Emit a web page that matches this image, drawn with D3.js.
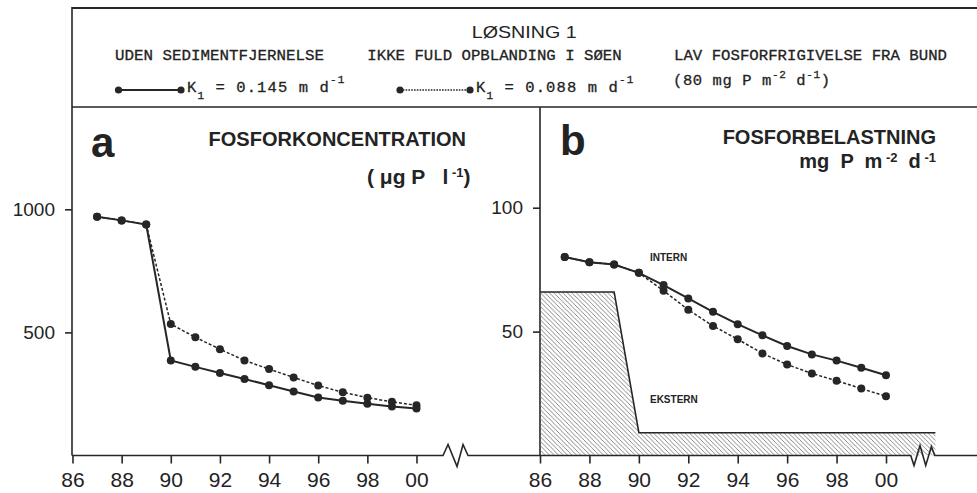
<!DOCTYPE html>
<html>
<head>
<meta charset="utf-8">
<script src="https://cdn.jsdelivr.net/npm/d3@7"></script>
<style>
  body { margin: 0; background: #fff; }
  svg text { fill: #232323; }
  .mono { font-family: "Liberation Mono", "DejaVu Sans Mono", monospace; }
  .sans { font-family: "Liberation Sans", Arial, sans-serif; }
</style>
</head>
<body>
<div id="chart"></div>
<script>
const width = 977;
const height = 493;
const ink = "#262626";

// values (years 87..00, 00 written as 100)
const years = [87, 88, 89, 90, 91, 92, 93, 94, 95, 96, 97, 98, 99, 100];
const concSolid = [970, 955, 938, 386, 360, 335, 311, 285, 260, 236, 222, 210, 199, 191];
const concDashed = [970, 955, 938, 534, 480, 432, 386, 351, 317, 284, 257, 235, 218, 204];
const loadSolid = [80.1, 78.0, 77.1, 73.7, 68.8, 63.4, 58.0, 53.0, 48.5, 44.2, 40.8, 38.3, 35.4, 32.4];
const loadDashed = [80.1, 78.0, 77.1, 73.7, 66.5, 58.8, 52.3, 46.9, 41.2, 36.7, 33.1, 30.2, 27.0, 23.9];
const externYears = [86, 89, 90, 102];
const externLoad = [66, 66, 9.2, 9.2];

const xTicks = [86, 88, 90, 92, 94, 96, 98, 100];
const yTicksA = [500, 1000];
const yTicksB = [50, 100];
const fmtYear = d => String(d % 100).padStart(2, "0");

const svg = d3.select("#chart")
  .append("svg")
  .attr("width", width)
  .attr("height", height)
  .attr("viewBox", `0 0 ${width} ${height}`);

svg.append("rect").attr("width", width).attr("height", height).attr("fill", "#fff");

// hatch for the external load
svg.append("defs")
  .append("pattern")
  .attr("id", "hatch")
  .attr("patternUnits", "userSpaceOnUse")
  .attr("width", 4.5)
  .attr("height", 4.5)
  .append("path")
  .attr("d", "M0,0L4.5,4.5M-1,3.5L1,5.5M3.5,-1L5.5,1")
  .attr("stroke", "#6a6a6a")
  .attr("stroke-width", 0.8);

// scales
const axisY = 455.5;
const xA = d3.scaleLinear().domain([86, 100]).range([72.5, 416.5]);
const xB = d3.scaleLinear().domain([86, 100]).range([540, 886]);
const yA = d3.scaleLinear().domain([0, 1000]).range([axisY, 209.3]);
const yB = d3.scaleLinear().domain([0, 100]).range([axisY, 207.7]);

// text with sub/superscripts: parts = [[text, kind]]
function richText(g, x, y, parts, opts) {
  const t = g.append("text")
    .attr("x", x).attr("y", y)
    .attr("class", opts.cls)
    .attr("font-size", opts.size)
    .attr("font-weight", opts.weight || "normal")
    .attr("text-anchor", opts.anchor || "start")
    .attr("letter-spacing", opts.ls || 0)
    .attr("xml:space", "preserve")
    .style("white-space", "pre");
  let shift = 0;
  parts.forEach(([s, kind]) => {
    const off = kind === "sup" ? opts.sup : kind === "sub" ? opts.sub : 0;
    t.append("tspan")
      .attr("dy", off - shift)
      .attr("font-size", kind ? opts.small : opts.size)
      .text(s);
    shift = off;
  });
  return t;
}

// ---------- frame / header ----------
const frame = svg.append("g").attr("fill", "none").attr("stroke", ink);
frame.append("line").attr("x1", 72).attr("x2", width).attr("y1", 8).attr("y2", 8).attr("stroke-width", 2);
frame.append("line").attr("x1", 72).attr("x2", width).attr("y1", 107).attr("y2", 107).attr("stroke-width", 1.6);
frame.append("line").attr("x1", 72).attr("x2", 72).attr("y1", 7).attr("y2", axisY).attr("stroke-width", 1.6);
frame.append("line").attr("x1", 540).attr("x2", 540).attr("y1", 107).attr("y2", axisY).attr("stroke-width", 1.6);

const header = svg.append("g");
header.append("text").attr("class", "sans").attr("x", 471.7).attr("y", 38.3)
  .attr("font-size", 17).attr("textLength", 105).attr("lengthAdjust", "spacingAndGlyphs")
  .text("LØSNING 1");

const columns = [
  { text: "UDEN SEDIMENTFJERNELSE", x: 115, w: 209 },
  { text: "IKKE FULD OPBLANDING I SØEN", x: 367.3, w: 254.4 },
  { text: "LAV FOSFORFRIGIVELSE FRA BUND", x: 674, w: 273 }
];
header.selectAll("text.col")
  .data(columns)
  .join("text")
  .attr("class", "col mono")
  .attr("x", d => d.x).attr("y", 60)
  .attr("font-size", 15.5)
  .attr("stroke", "#232323").attr("stroke-width", 0.3)
  .attr("textLength", d => d.w)
  .attr("lengthAdjust", "spacingAndGlyphs")
  .text(d => d.text);

function legendLine(x1, x2, y, dashed) {
  header.append("line").attr("x1", x1).attr("x2", x2).attr("y1", y).attr("y2", y)
    .attr("stroke", ink).attr("stroke-width", dashed ? 1.3 : 2)
    .attr("stroke-dasharray", dashed ? "1.6,1.2" : null);
  header.selectAll(null).data([x1, x2]).join("circle")
    .attr("cx", d => d).attr("cy", y).attr("r", 3.6).attr("fill", ink);
}
const legOpts = { cls: "mono", size: 15.5, small: 11, sup: -8.4, sub: 7.5, ls: 1.1 };
legendLine(118.5, 181, 90, false);
richText(header, 187, 91.7, [["K"], ["1", "sub"], [" = 0.145 m d"], ["-1", "sup"]], legOpts)
  .attr("stroke", "#232323").attr("stroke-width", 0.3);
legendLine(400, 470, 90, true);
richText(header, 476, 91.7, [["K"], ["1", "sub"], [" = 0.088 m d"], ["-1", "sup"]], legOpts)
  .attr("stroke", "#232323").attr("stroke-width", 0.3);
richText(header, 673, 85, [["(80 mg P m"], ["-2", "sup"], [" d"], ["-1", "sup"], [")"]],
  { cls: "mono", size: 15.5, small: 11, sup: -7, sub: 0, ls: 0.6 })
  .attr("stroke", "#232323").attr("stroke-width", 0.3);

// ---------- axes ----------
function styleAxis(g, size) {
  g.select(".domain").remove();
  g.selectAll(".tick line").attr("stroke", ink).attr("stroke-width", 1.6);
  g.selectAll(".tick text")
    .attr("class", "sans")
    .attr("font-size", size)
    .attr("fill", "#232323");
  g.attr("font-family", null);
}

function brokenAxis(x0, b0, x1, pts) {
  const p = d3.path();
  p.moveTo(x0, axisY);
  p.lineTo(b0, axisY);
  pts.forEach(([dx, dy]) => p.lineTo(b0 + dx, axisY + dy));
  p.lineTo(x1, axisY);
  svg.append("path").attr("d", p.toString())
    .attr("fill", "none").attr("stroke", ink).attr("stroke-width", 1.6)
    .attr("stroke-linejoin", "miter");
}

const fmtNum = d3.format("d");

// panel a axes
svg.append("g").attr("transform", `translate(72,0)`)
  .call(d3.axisLeft(yA).tickValues(yTicksA).tickFormat(fmtNum).tickSize(7).tickPadding(10))
  .call(g => styleAxis(g, 19));
svg.append("g").attr("transform", `translate(0,${axisY})`)
  .call(d3.axisBottom(xA).tickValues(xTicks).tickFormat(fmtYear).tickSize(8).tickPadding(9))
  .call(g => styleAxis(g, 21));
brokenAxis(72, xA(101.08), 540, [[5, -11], [14, 11], [20, -11], [25, 0]]);

// panel b axes
svg.append("g").attr("transform", `translate(540,0)`)
  .call(d3.axisLeft(yB).tickValues(yTicksB).tickFormat(fmtNum).tickSize(7).tickPadding(10))
  .call(g => styleAxis(g, 19));
svg.append("g").attr("transform", `translate(0,${axisY})`)
  .call(d3.axisBottom(xB).tickValues(xTicks).tickFormat(fmtYear).tickSize(8).tickPadding(9))
  .call(g => styleAxis(g, 21));

// external load (hatched)
const extPts = externYears.map((yr, i) => [yr, externLoad[i]]);
svg.append("path")
  .datum(extPts)
  .attr("fill", "url(#hatch)")
  .attr("d", d3.area().x(d => xB(d[0])).y0(yB(0)).y1(d => yB(d[1])));
svg.append("path")
  .datum(extPts)
  .attr("fill", "none").attr("stroke", ink).attr("stroke-width", 1.6)
  .attr("d", d3.line().x(d => xB(d[0])).y(d => yB(d[1])));

brokenAxis(540, xB(101), width, [[3.3, 10], [9.3, -10], [15, 10], [20.7, -9], [24, 0]]);

// ---------- series ----------
function drawSeries(x, y, values, dashed) {
  const pts = years.map((yr, i) => [yr, values[i]]);
  svg.append("path")
    .datum(pts)
    .attr("fill", "none")
    .attr("stroke", ink)
    .attr("stroke-width", dashed ? 1.5 : 2)
    .attr("stroke-dasharray", dashed ? "3,2" : null)
    .attr("d", d3.line().x(d => x(d[0])).y(d => y(d[1])));
  return pts;
}
function drawDots(x, y, pts) {
  svg.append("g").selectAll("circle")
    .data(pts)
    .join("circle")
    .attr("cx", d => x(d[0]))
    .attr("cy", d => y(d[1]))
    .attr("r", 4)
    .attr("fill", ink);
}

const aDash = drawSeries(xA, yA, concDashed, true);
const aSolid = drawSeries(xA, yA, concSolid, false);
drawDots(xA, yA, aDash);
drawDots(xA, yA, aSolid);

const bDash = drawSeries(xB, yB, loadDashed, true);
const bSolid = drawSeries(xB, yB, loadSolid, false);
drawDots(xB, yB, bDash);
drawDots(xB, yB, bSolid);

// ---------- panel labels ----------
const labels = svg.append("g").attr("class", "sans");
labels.append("text").attr("class", "sans").attr("x", 91).attr("y", 157)
  .attr("font-size", 42).attr("font-weight", "bold").text("a");
labels.append("text").attr("class", "sans").attr("x", 560).attr("y", 155)
  .attr("font-size", 42).attr("font-weight", "bold").text("b");

labels.append("text").attr("class", "sans").attr("x", 466).attr("y", 146)
  .attr("text-anchor", "end").attr("font-size", 20).attr("font-weight", "bold")
  .text("FOSFORKONCENTRATION");
richText(labels, 470.5, 184, [["( μg P   l"], [" -1", "sup"], [")"]],
  { cls: "sans", size: 21, small: 13, sup: -7, sub: 0, anchor: "end", weight: "bold" });

labels.append("text").attr("class", "sans").attr("x", 936).attr("y", 143.5)
  .attr("text-anchor", "end").attr("font-size", 20).attr("font-weight", "bold")
  .text("FOSFORBELASTNING");
richText(labels, 936, 168, [["mg  P  m"], [" -2", "sup"], ["  d"], [" -1", "sup"]],
  { cls: "sans", size: 20, small: 13, sup: -5.6, sub: 0, anchor: "end", weight: "bold" });

labels.append("text").attr("class", "sans").attr("x", xB(90.45)).attr("y", 260.5)
  .attr("font-size", 10).attr("font-weight", "bold").text("INTERN");
labels.append("text").attr("class", "sans").attr("x", xB(90.45)).attr("y", 403)
  .attr("font-size", 10).attr("font-weight", "bold").text("EKSTERN");
</script>
</body>
</html>
